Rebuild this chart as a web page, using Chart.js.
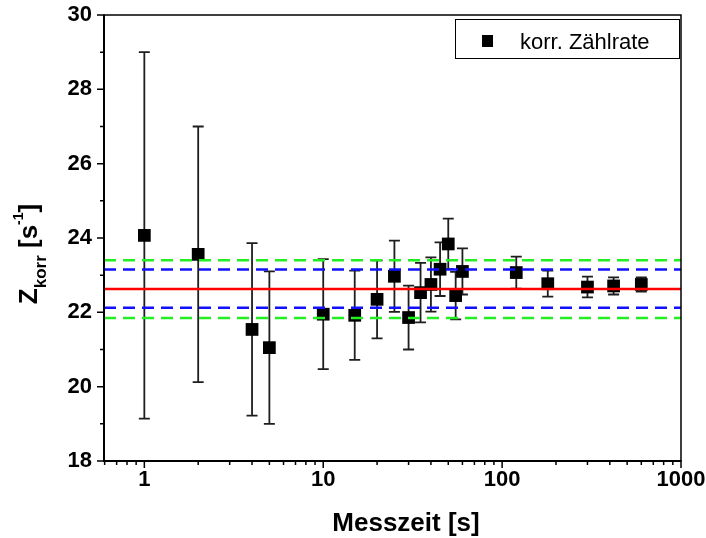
<!DOCTYPE html>
<html><head><meta charset="utf-8">
<script src="https://cdn.jsdelivr.net/npm/chart.js@4/dist/chart.umd.min.js"></script>
<style>html,body{margin:0;padding:0;background:#fff;}#wrap{width:706px;height:538px;position:relative;}</style>
</head><body><div id="wrap"><canvas id="c" width="706" height="538"></canvas></div>
<script>
// ---- data ----
const measTimes = [1, 2, 4, 5, 10, 15, 20, 25, 30, 35, 40, 45, 50, 55, 60, 120, 180, 300, 420, 600];
const rates     = [24.07, 23.56, 21.54, 21.05, 21.95, 21.92, 22.35, 22.97, 21.86, 22.53, 22.75, 23.16, 23.84, 22.45, 23.10, 23.07, 22.77, 22.68, 22.71, 22.75];
const errors    = [4.93, 3.44, 2.32, 2.05, 1.48, 1.20, 1.05, 0.96, 0.86, 0.80, 0.73, 0.72, 0.68, 0.64, 0.62, 0.43, 0.35, 0.28, 0.23, 0.19];
const meanRate  = 22.63;
const sigma1Band = [22.12, 23.15];
const sigma2Band = [21.85, 23.40];
const xRange = [0.595, 1000];
const yRange = [18, 30];
const xLabelTicks = [1, 10, 100, 1000];
const yStep = 2;
const seriesLabel = 'korr. Zählrate';
const xTitle = 'Messzeit [s]';

const FONT = "'Liberation Sans', Arial, Helvetica, sans-serif";

function hLine(y){ return [{x:xRange[0], y:y}, {x:xRange[1], y:y}]; }

const errorBarPlugin = {
  id: 'errorBars',
  beforeDatasetsDraw(chart){
    const {ctx, scales:{x, y}} = chart;
    ctx.save();
    ctx.strokeStyle = '#1e1e1e';
    ctx.lineWidth = 1.8;
    for (let i = 0; i < measTimes.length; i++){
      const px = x.getPixelForValue(measTimes[i]);
      const pt = y.getPixelForValue(rates[i] + errors[i]);
      const pb = y.getPixelForValue(rates[i] - errors[i]);
      ctx.beginPath();
      ctx.moveTo(px, pt); ctx.lineTo(px, pb);
      ctx.moveTo(px - 5.5, pt); ctx.lineTo(px + 5.5, pt);
      ctx.moveTo(px - 5.5, pb); ctx.lineTo(px + 5.5, pb);
      ctx.stroke();
    }
    ctx.restore();
  }
};

const framePlugin = {
  id: 'frame',
  afterDraw(chart){
    const {ctx, chartArea:a, scales:{x, y}} = chart;
    ctx.save();
    ctx.strokeStyle = '#000';
    ctx.lineWidth = 1.5;
    ctx.beginPath();
    ctx.moveTo(a.left, a.top); ctx.lineTo(a.right, a.top); ctx.lineTo(a.right, a.bottom);
    ctx.stroke();
    ctx.lineWidth = 2;
    ctx.beginPath();
    ctx.moveTo(a.left, a.top - 0.5); ctx.lineTo(a.left, a.bottom); ctx.lineTo(a.right + 0.5, a.bottom);
    ctx.stroke();
    ctx.lineWidth = 1.5;
    ctx.beginPath();
    for (let e = -1; e <= 2; e++){
      for (let m = 1; m <= 9; m++){
        const v = m * Math.pow(10, e);
        if (v < xRange[0] - 1e-9 || v > xRange[1]) continue;
        const px = x.getPixelForValue(v);
        const len = (m === 1) ? 7 : 4;
        ctx.moveTo(px, a.bottom); ctx.lineTo(px, a.bottom + len);
      }
    }
    const px1000 = x.getPixelForValue(1000);
    ctx.moveTo(px1000, a.bottom); ctx.lineTo(px1000, a.bottom + 7);
    for (let v = yRange[0]; v <= yRange[1]; v++){
      const py = y.getPixelForValue(v);
      const len = (v % 2 === 0) ? 7 : 4;
      ctx.moveTo(a.left, py); ctx.lineTo(a.left - len, py);
    }
    ctx.stroke();

    // legend
    ctx.lineWidth = 1;
    ctx.strokeRect(455.5, 19.5, 224, 39);
    ctx.fillStyle = '#000';
    ctx.fillRect(482, 35, 11, 12);
    ctx.font = '22px ' + FONT;
    ctx.textBaseline = 'alphabetic';
    ctx.textAlign = 'left';
    ctx.fillText(seriesLabel, 520, 49);

    // x axis title
    ctx.font = 'bold 26px ' + FONT;
    ctx.textAlign = 'center';
    ctx.fillText(xTitle, 406, 531);

    // y axis title with sub/superscript
    ctx.textAlign = 'left';
    const segs = [
      {t:'Z',    f:'bold 26px ' + FONT, dy:0},
      {t:'korr', f:'bold 17px ' + FONT, dy:9},
      {t:' [s',  f:'bold 26px ' + FONT, dy:0},
      {t:'-1',   f:'bold 14px ' + FONT, dy:-14},
      {t:']',    f:'bold 26px ' + FONT, dy:0}
    ];
    let total = 0;
    segs.forEach(s => { ctx.font = s.f; s.w = ctx.measureText(s.t).width; total += s.w; });
    ctx.translate(37, 254);
    ctx.rotate(-Math.PI / 2);
    let cx = -total / 2;
    segs.forEach(s => { ctx.font = s.f; ctx.fillText(s.t, cx, s.dy); cx += s.w; });
    ctx.restore();
  }
};

new Chart(document.getElementById('c'), {
  type: 'scatter',
  data: {
    datasets: [
      {type:'line', data:hLine(meanRate), borderColor:'#ff0000', borderWidth:2.5, pointRadius:0, order:0},
      {type:'line', data:hLine(sigma1Band[0]), borderColor:'#1010ff', borderWidth:2.5, borderDash:[12,7], pointRadius:0, order:1},
      {type:'line', data:hLine(sigma1Band[1]), borderColor:'#1010ff', borderWidth:2.5, borderDash:[12,7], pointRadius:0, order:1},
      {type:'line', data:hLine(sigma2Band[0]), borderColor:'#22ee22', borderWidth:2.5, borderDash:[12,7], pointRadius:0, order:2},
      {type:'line', data:hLine(sigma2Band[1]), borderColor:'#22ee22', borderWidth:2.5, borderDash:[12,7], pointRadius:0, order:2},
      {label: seriesLabel, data: measTimes.map((t, i) => ({x:t, y:rates[i]})),
       pointStyle:'rect', pointRadius:9, backgroundColor:'#000', borderWidth:0, order:5}
    ]
  },
  options: {
    responsive: false,
    devicePixelRatio: 1,
    animation: false,
    events: [],
    layout: {padding: {left:0, right:25, top:15, bottom:0}},
    plugins: {legend:{display:false}, tooltip:{enabled:false}, title:{display:false}},
    scales: {
      x: {
        type:'logarithmic', min:xRange[0], max:xRange[1],
        grid:{display:false, drawTicks:false}, border:{display:false},
        afterBuildTicks: s => { s.ticks = xLabelTicks.map(v => ({value:v})); },
        afterFit: s => { s.height = 77; s.paddingLeft = 0; s.paddingRight = 0; },
        ticks:{color:'#000', padding:6, maxRotation:0, autoSkip:false,
               font:{family:FONT, size:22, weight:'bold'},
               callback: v => String(v)},
        title:{display:false}
      },
      y: {
        type:'linear', min:yRange[0], max:yRange[1],
        grid:{display:false, drawTicks:false}, border:{display:false},
        afterFit: s => { s.width = 104; s.paddingTop = 0; s.paddingBottom = 0; },
        ticks:{stepSize:yStep, color:'#000', padding:12,
               font:{family:FONT, size:22, weight:'bold'}}
      }
    }
  },
  plugins: [errorBarPlugin, framePlugin]
});
</script>
</body></html>
